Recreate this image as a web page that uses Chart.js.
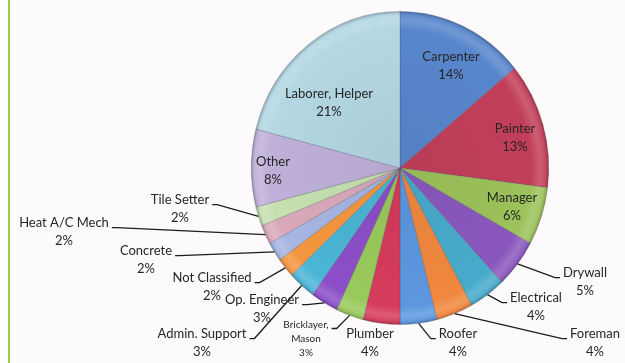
<!DOCTYPE html>
<html>
<head>
<meta charset="utf-8">
<title>Workers by trade</title>
<script src="https://cdn.jsdelivr.net/npm/chart.js@4"></script>
<style>
  html, body { margin: 0; padding: 0; background: #ffffff; }
  #wrap { width: 625px; height: 363px; }
</style>
</head>
<body>
<div id="wrap"><canvas id="tradePie" width="625" height="363"></canvas></div>
<script>
// trades, clockwise from 12 o'clock
var categories = ["Carpenter", "Painter", "Manager", "Drywall", "Electrical", "Foreman",
    "Roofer", "Plumber", "Bricklayer, Mason", "Op. Engineer", "Admin. Support",
    "Not Classified", "Concrete", "Heat A/C Mech", "Tile Setter", "Other", "Laborer, Helper"];
var shares = [14, 13, 6, 5, 4, 4, 4, 4, 3, 3, 3, 2, 2, 2, 2, 8, 21];
var sliceColors = ["#5886cc", "#c23f5a", "#9cc25a", "#8a58bd", "#48abcb", "#f0883e",
    "#5c97df", "#d63b5b", "#99c95b", "#8c4ec8", "#4bb5d5", "#f4963f",
    "#a6b6e2", "#d9a9ba", "#c6e0b0", "#bfb0d9", "#b3d7e3"];

// the pie is drawn a little narrower than tall
var squashX = 0.95;

// where each label sits; leader = side of the text the leader line comes in from
var labelSpots = [
    { x: 451, y: 57 },
    { x: 515, y: 129 },
    { x: 512, y: 198 },
    { x: 585, y: 273, leader: "left" },
    { x: 536, y: 298, leader: "left" },
    { x: 595, y: 334, leader: "left" },
    { x: 458, y: 334, leader: "left" },
    { x: 370, y: 334 },
    { x: 306, y: 325, leader: "right", size: 10, gap: 14, wrap: true },
    { x: 262, y: 300, leader: "right" },
    { x: 202, y: 334, leader: "right" },
    { x: 212, y: 278, leader: "right" },
    { x: 146, y: 251, leader: "right" },
    { x: 64, y: 223, leader: "right" },
    { x: 180, y: 200, leader: "right" },
    { x: 273, y: 162 },
    { x: 329, y: 94 }
];

function mix(hex, target, t) {
    var n = parseInt(hex.slice(1), 16);
    var r = n >> 16, g = (n >> 8) & 255, b = n & 255;
    r = Math.round(r + (target - r) * t);
    g = Math.round(g + (target - g) * t);
    b = Math.round(b + (target - b) * t);
    return "rgb(" + r + "," + g + "," + b + ")";
}

function pieCenter(area) {
    return {
        cx: (area.left + area.right) / 2,
        cy: (area.top + area.bottom) / 2,
        R: Math.min(area.right - area.left, area.bottom - area.top) / 2
    };
}

// bevelled look: flat body, soft bright rim, darker edge
function shade(c) {
    var base = sliceColors[c.dataIndex];
    var area = c.chart.chartArea;
    if (!area) return base;
    var p = pieCenter(area);
    if (!isFinite(p.cx) || !isFinite(p.cy) || !(p.R > 0)) return base;
    var g = c.chart.ctx.createRadialGradient(p.cx, p.cy, 0, p.cx, p.cy, p.R);
    g.addColorStop(0, mix(base, 0, 0.05));
    g.addColorStop(0.88, base);
    g.addColorStop(0.94, mix(base, 255, 0.16));
    g.addColorStop(0.975, mix(base, 255, 0.06));
    g.addColorStop(1, mix(base, 0, 0.22));
    return g;
}

const backdrop = {
    id: "backdrop",
    beforeDraw(chart) {
        const ctx = chart.ctx;
        ctx.save();
        ctx.fillStyle = "#ffffff";
        ctx.fillRect(0, 0, chart.width, chart.height);
        ctx.fillStyle = "#fdfafb";
        ctx.fillRect(17, 0, chart.width - 17, chart.height);
        ctx.fillStyle = "#92d050";
        ctx.fillRect(8, 0, 2, chart.height);
        ctx.restore();
    }
};

const squash = {
    id: "squash",
    beforeDatasetsDraw(chart) {
        const c = pieCenter(chart.chartArea);
        chart.ctx.save();
        chart.ctx.translate(c.cx, 0);
        chart.ctx.scale(squashX, 1);
        chart.ctx.translate(-c.cx, 0);
    },
    afterDatasetsDraw(chart) {
        chart.ctx.restore();
    }
};

const sliceLabels = {
    id: "sliceLabels",
    afterDatasetsDraw(chart) {
        const ctx = chart.ctx;
        const arcs = chart.getDatasetMeta(0).data;
        ctx.save();
        ctx.textAlign = "center";
        ctx.textBaseline = "middle";
        arcs.forEach((arc, i) => {
            const spot = labelSpots[i];
            const size = spot.size || 13;
            const gap = spot.gap || 18;
            let lines = spot.wrap ? categories[i].split(", ").map((s, k, a) => k < a.length - 1 ? s + "," : s) : [categories[i]];
            lines.push(shares[i] + "%");
            ctx.font = size + "px Lato";
            ctx.fillStyle = "#262626";
            lines.forEach((t, k) => ctx.fillText(t, spot.x, spot.y + k * gap));

            if (spot.leader) {
                const p = arc.getProps(["x", "y", "startAngle", "endAngle", "outerRadius"], true);
                const mid = (p.startAngle + p.endAngle) / 2;
                const ax = p.x + Math.cos(mid) * p.outerRadius * squashX;
                const ay = p.y + Math.sin(mid) * p.outerRadius;
                const w = ctx.measureText(lines[0]).width;
                const dir = spot.leader === "left" ? -1 : 1;
                const ex = spot.x + dir * (w / 2 + 3);
                const ey = spot.y + size * 0.35;
                ctx.beginPath();
                ctx.moveTo(ax, ay);
                ctx.lineTo(ex + dir * 5, ey);
                ctx.lineTo(ex, ey);
                ctx.strokeStyle = "#1c1c1c";
                ctx.lineWidth = 1.3;
                ctx.stroke();
            }
        });
        ctx.restore();
    }
};

var ctx = document.getElementById("tradePie").getContext("2d");
var tradePie = new Chart(ctx, {
    type: "pie",
    data: {
        labels: categories,
        datasets: [{
            data: shares,
            backgroundColor: shade,
            borderColor: "rgba(70, 70, 90, 0.35)",
            borderWidth: 0.8
        }]
    },
    options: {
        responsive: false,
        devicePixelRatio: 1,
        animation: false,
        layout: { padding: { left: 243, right: 68, top: 11, bottom: 38 } },
        plugins: {
            legend: { display: false },
            tooltip: { enabled: false }
        }
    },
    plugins: [backdrop, squash, sliceLabels]
});
</script>
</body>
</html>
